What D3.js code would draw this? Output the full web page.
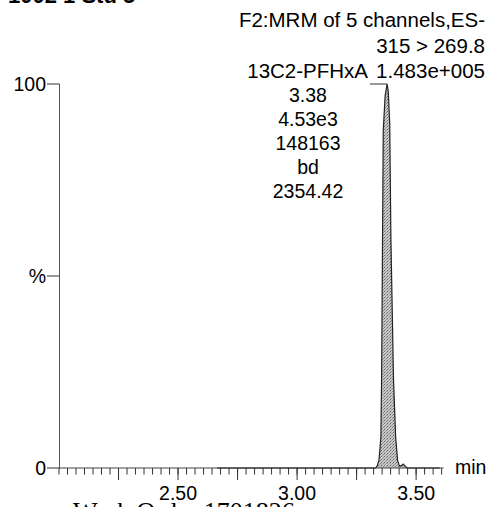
<!DOCTYPE html>
<html>
<head>
<meta charset="utf-8">
<script src="https://cdn.jsdelivr.net/npm/d3@7"></script>
<style>
  html, body { margin: 0; padding: 0; background: #fff; }
  svg { display: block; font-family: "Liberation Sans", Arial, sans-serif; }
</style>
</head>
<body>
<svg id="chart" width="492" height="507"></svg>
<script>
// chromatogram trace, 13C2-PFHxA channel (time in min, intensity in %)
const traceTime = [2.664, 3.000, 3.300, 3.330, 3.336, 3.344, 3.352, 3.355, 3.359, 3.362,
  3.370, 3.378, 3.383, 3.389, 3.394, 3.405, 3.414, 3.422, 3.430, 3.438, 3.446, 3.454,
  3.462, 3.500, 3.600];
const traceValue = [0, 0, 0, 0, 0.5, 2, 8, 23, 60, 88,
  97, 100, 98, 90, 60, 23, 8, 2, 0.5, 0.6, 1.0, 0.5,
  0, 0, 0];

const headerLines = ["F2:MRM of 5 channels,ES-", "315 > 269.8"];
const compoundName = "13C2-PFHxA";
const maxIntensity = "1.483e+005";
const peakLabels = ["3.38", "4.53e3", "148163", "bd", "2354.42"];
const peakTime = 3.378;

const xMajorTicks = [2.25, 2.50, 2.75, 3.00, 3.25, 3.50];
const xLabelTicks = [2.50, 3.00, 3.50];
const yTicks = [0, 50, 100];
const yTickLabels = ["0", "%", "100"];

const svg = d3.select("#chart");
const fontSize = 19.5;
const headSize = 20.5;

const x = d3.scaleLinear().domain([2.0, 3.615]).range([59, 443.5]);
const y = d3.scaleLinear().domain([0, 100]).range([468, 84]);

// cut-off header at the very top
svg.append("text")
  .attr("x", 8).attr("y", 3)
  .attr("font-size", 22).attr("font-weight", "bold")
  .text("1002 1 Std 5");

// peak fill
const area = d3.area()
  .x((d, i) => x(traceTime[i]))
  .y0(y(0))
  .y1(d => y(d));

const defs = svg.append("defs");
const pat = defs.append("pattern")
  .attr("id", "stip")
  .attr("width", 3).attr("height", 3)
  .attr("patternUnits", "userSpaceOnUse");
pat.append("rect").attr("width", 3).attr("height", 3).attr("fill", "#c8c8c8");
pat.append("rect").attr("x", 0).attr("y", 0).attr("width", 1).attr("height", 1).attr("fill", "#666");
pat.append("rect").attr("x", 2).attr("y", 1).attr("width", 1).attr("height", 1).attr("fill", "#888");
pat.append("rect").attr("x", 1).attr("y", 2).attr("width", 1).attr("height", 1).attr("fill", "#9a9a9a");

svg.append("path")
  .datum(traceValue)
  .attr("d", area)
  .attr("fill", "url(#stip)");

// x axis
const minorStep = 0.25 / 7;
const xMinorTicks = d3.range(0, 46).map(i => 2.0 + i * minorStep).filter(t => t <= 3.615);

svg.append("line")
  .attr("x1", x.range()[0]).attr("x2", x.range()[1])
  .attr("y1", y(0)).attr("y2", y(0))
  .attr("stroke", "#444").attr("stroke-width", 1);

svg.selectAll(".minor")
  .data(xMinorTicks)
  .enter()
  .append("line")
  .attr("x1", d => x(d)).attr("x2", d => x(d))
  .attr("y1", y(0)).attr("y2", y(0) + 6.5)
  .attr("stroke", "#333");

svg.selectAll(".major")
  .data(xMajorTicks)
  .enter()
  .append("line")
  .attr("x1", d => x(d)).attr("x2", d => x(d))
  .attr("y1", y(0)).attr("y2", y(0) + 12)
  .attr("stroke", "#333");

svg.selectAll(".xlab")
  .data(xLabelTicks)
  .enter()
  .append("text")
  .attr("x", d => x(d))
  .attr("y", 500)
  .attr("text-anchor", "middle")
  .attr("font-size", fontSize)
  .text(d => d.toFixed(2));

svg.append("text")
  .attr("x", 455).attr("y", 474)
  .attr("font-size", fontSize)
  .text("min");

// y axis
svg.append("line")
  .attr("x1", 59.5).attr("x2", 59.5)
  .attr("y1", y(100)).attr("y2", y(0))
  .attr("stroke", "#555");

svg.selectAll(".ytick")
  .data(yTicks)
  .enter()
  .append("line")
  .attr("x1", 47).attr("x2", 59.5)
  .attr("y1", d => y(d)).attr("y2", d => y(d))
  .attr("stroke", "#333");

svg.selectAll(".ylab")
  .data(yTicks)
  .enter()
  .append("text")
  .attr("x", 46)
  .attr("y", d => y(d) + 7)
  .attr("text-anchor", "end")
  .attr("font-size", fontSize)
  .text((d, i) => yTickLabels[i]);

// baseline trace and peak outline
const line = d3.line()
  .x((d, i) => x(traceTime[i]))
  .y(d => y(d));

svg.append("path")
  .datum(traceValue)
  .attr("d", line)
  .attr("fill", "none")
  .attr("stroke", "#222")
  .attr("stroke-width", 1.2);

// header text
svg.selectAll(".hdr")
  .data(headerLines)
  .enter()
  .append("text")
  .attr("x", 485)
  .attr("y", (d, i) => 27 + i * 25.5)
  .attr("text-anchor", "end")
  .attr("font-size", headSize)
  .text(d => d);

svg.append("text")
  .attr("x", 485).attr("y", 78)
  .attr("text-anchor", "end")
  .attr("font-size", headSize)
  .text(maxIntensity);

svg.append("text")
  .attr("x", 368).attr("y", 78)
  .attr("text-anchor", "end")
  .attr("font-size", headSize)
  .text(compoundName);

// connector from label to apex
svg.append("path")
  .attr("d", `M370,${y(100)}H${x(peakTime)}`)
  .attr("fill", "none")
  .attr("stroke", "#333");

svg.selectAll(".plab")
  .data(peakLabels)
  .enter()
  .append("text")
  .attr("x", 308)
  .attr("y", (d, i) => 102 + i * 24)
  .attr("text-anchor", "middle")
  .attr("font-size", fontSize)
  .text(d => d);

// footer, cut off by the page edge
svg.append("text")
  .attr("x", 73).attr("y", 520)
  .attr("font-family", "Liberation Serif, Times New Roman, serif")
  .attr("font-size", 26)
  .text("Work Order 1701826");
</script>
</body>
</html>
